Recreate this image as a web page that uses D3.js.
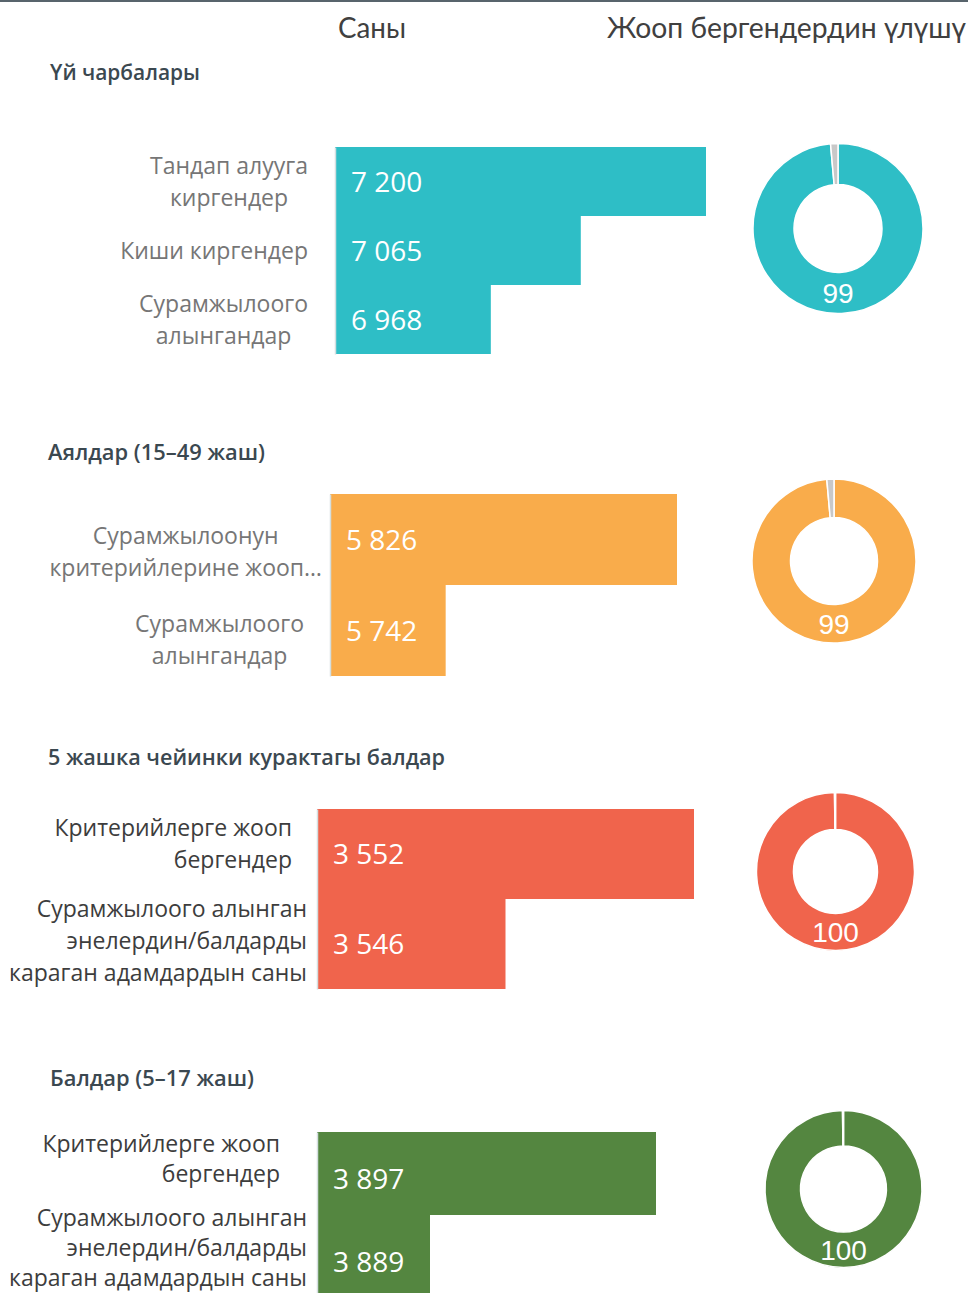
<!DOCTYPE html>
<html>
<head>
<meta charset="utf-8">
<script src="https://cdn.jsdelivr.net/npm/d3@7"></script>
<style>
  body { margin: 0; background: #fff; }
  svg { display: block; }
</style>
</head>
<body>
<svg id="chart"></svg>
<script>
// ---- data ----
const columnHeaders = ["Саны", "Жооп бергендердин үлүшү"];
const panelTitles = ["Үй чарбалары", "Аялдар (15–49 жаш)", "5 жашка чейинки курактагы балдар", "Балдар (5–17 жаш)"];
const categories = [
  ["Тандап алууга\nкиргендер", "Киши киргендер", "Сурамжылоого\nалынгандар"],
  ["Сурамжылоонун\nкритерийлерине жооп…", "Сурамжылоого\nалынгандар"],
  ["Критерийлерге жооп\nбергендер", "Сурамжылоого алынган\nэнелердин/балдарды\nкараган адамдардын саны"],
  ["Критерийлерге жооп\nбергендер", "Сурамжылоого алынган\nэнелердин/балдарды\nкараган адамдардын саны"]
];
const counts = [
  [7200, 7065, 6968],
  [5826, 5742],
  [3552, 3546],
  [3897, 3889]
];
const axisMin = [6800, 5700, 3540, 3885];
const responseShare = [98.6, 98.6, 99.8, 99.8];

const colors = ["#2ebec6", "#f9ac4b", "#f0644c", "#548640"];

// ---- layout (pixels) ----
const width = 968, height = 1293;
const layout = [
  {titleX: 50, titleY: 80, titleW: 150, left: 335, right: 706, top: 147, band: 69, valueDy: 0,
   labelRight: [308, 308, 308], align: "center", labelShift: [0, 0, 0], lineH: 32, labelColor: "#767676",
   cx: 838, cy: 228.5, r: 85, ri: 44},
  {titleX: 48, titleY: 460, titleW: 217, left: 330, right: 677, top: 494, band: 91, valueDy: 0,
   labelRight: [322, 304], align: "center", labelShift: [12, 9], lineH: 32, labelColor: "#767676",
   cx: 834, cy: 561, r: 82, ri: 43.5},
  {titleX: 48, titleY: 765, titleW: 397, left: 317, right: 694, top: 809, band: 90, valueDy: 0,
   labelRight: [292, 307], align: "right", labelShift: [-10, -3], lineH: 32, labelColor: "#3d3d3d",
   cx: 835.5, cy: 871.5, r: 79, ri: 42},
  {titleX: 50, titleY: 1086, titleW: 204, left: 317, right: 656, top: 1132, band: 83, valueDy: 5,
   labelRight: [280, 307], align: "right", labelShift: [-15, -9], lineH: 30, labelColor: "#3d3d3d",
   cx: 843.5, cy: 1189, r: 78.5, ri: 43}
];

const svg = d3.select("#chart")
    .attr("width", width)
    .attr("height", height);

// top rule
svg.append("line")
    .attr("x1", 0).attr("x2", width)
    .attr("y1", 1).attr("y2", 1)
    .attr("stroke", "#58646c")
    .attr("stroke-width", 2);

// column headers
svg.append("text")
    .attr("x", 338).attr("y", 38)
    .attr("textLength", 68).attr("lengthAdjust", "spacingAndGlyphs")
    .style("font", "28px Lato").attr("fill", "#404040")
    .text(columnHeaders[0]);
svg.append("text")
    .attr("x", 607).attr("y", 38)
    .attr("textLength", 359).attr("lengthAdjust", "spacingAndGlyphs")
    .style("font", "28px Lato").attr("fill", "#404040")
    .text(columnHeaders[1]);

panelTitles.forEach((title, i) => {
  const L = layout[i];
  const g = svg.append("g");

  // PANEL TITLE
  g.append("text")
      .attr("x", L.titleX).attr("y", L.titleY)
      .attr("textLength", L.titleW).attr("lengthAdjust", "spacingAndGlyphs")
      .style("font", "600 22px 'Open Sans'")
      .attr("fill", "#3b4850")
      .text(title);

  const x = d3.scaleLinear()
      .domain([axisMin[i], d3.max(counts[i])])
      .range([L.left, L.right]);

  const y = d3.scaleBand()
      .domain(categories[i])
      .range([L.top, L.top + L.band * categories[i].length])
      .padding(0);

  // BARS
  g.append("g")
    .selectAll("rect")
    .data(counts[i])
    .join("rect")
      .attr("x", x(axisMin[i]))
      .attr("y", (d, j) => y(categories[i][j]))
      .attr("width", d => x(d) - x(axisMin[i]))
      .attr("height", y.bandwidth())
      .attr("fill", colors[i]);

  // axis line (no ticks)
  g.append("g")
      .attr("transform", `translate(${L.left},0)`)
      .call(d3.axisLeft(y).tickSize(0).tickFormat(""))
      .call(a => a.select(".domain").attr("stroke", "#d4dfe0").attr("stroke-width", 1.5));

  // VALUE LABELS
  const fmt = d3.format(",");
  g.append("g")
    .selectAll("text")
    .data(counts[i])
    .join("text")
      .attr("x", L.left + 16)
      .attr("y", (d, j) => y(categories[i][j]) + y.bandwidth() / 2 + L.valueDy)
      .attr("dy", "0.36em")
      .style("font", "28px 'Open Sans'")
      .attr("fill", "#fff")
      .text(d => fmt(d).replace(/,/g, " "));

  // CATEGORY LABELS
  categories[i].forEach((cat, j) => {
    const lines = cat.split("\n");
    const cy = y(cat) + y.bandwidth() / 2 + 8 + L.labelShift[j];
    const t = g.append("text")
        .style("font", "23px 'Open Sans'")
        .attr("fill", L.labelColor);
    const spans = t.selectAll("tspan")
      .data(lines)
      .join("tspan")
        .attr("y", (d, k) => cy + (k - (lines.length - 1) / 2) * L.lineH)
        .text(d => d);
    if (L.align === "center") {
      const maxW = d3.max(spans.nodes(), n => n.getComputedTextLength());
      spans.attr("x", L.labelRight[j] - maxW / 2).attr("text-anchor", "middle");
    } else {
      spans.attr("x", L.labelRight[j]).attr("text-anchor", "end");
    }
  });

  // DONUT
  const pie = d3.pie().sort(null).value(d => d);
  const arc = d3.arc().innerRadius(L.ri).outerRadius(L.r);
  const dg = g.append("g").attr("transform", `translate(${L.cx},${L.cy})`);
  dg.selectAll("path")
    .data(pie([responseShare[i], 100 - responseShare[i]]))
    .join("path")
      .attr("d", arc)
      .attr("fill", (d, k) => k === 0 ? colors[i] : "#c8c8c8")
      .attr("stroke", "#fff")
      .attr("stroke-width", 1.5);

  dg.append("text")
      .attr("x", 0)
      .attr("y", (L.r + L.ri) / 2)
      .attr("dy", "0.36em")
      .attr("text-anchor", "middle")
      .style("font", "28px 'Liberation Sans'")
      .attr("fill", "#fff")
      .text(Math.round(responseShare[i]));
});
</script>
</body>
</html>
